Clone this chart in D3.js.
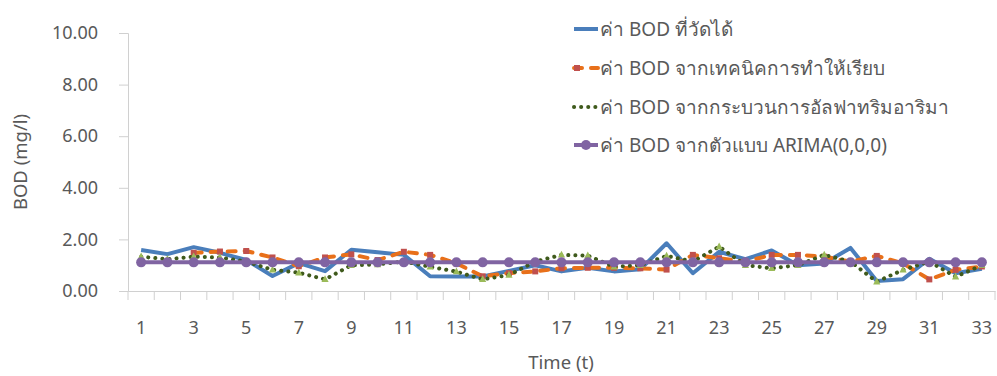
<!DOCTYPE html>
<html><head><meta charset="utf-8">
<script src="https://cdn.jsdelivr.net/npm/d3@7/dist/d3.min.js"></script>
<style>body{margin:0;background:#fff;}svg{display:block;font-family:"Noto Sans","DejaVu Sans",sans-serif;}</style>
</head><body>
<svg id="c" width="997" height="376"></svg>
<script>
const categories = d3.range(1, 34);
const tickLabels = categories.filter(d => d % 2 === 1);
const yTicks = [0, 2, 4, 6, 8, 10];
const measured = [1.59,1.43,1.70,1.48,1.20,0.58,1.08,0.77,1.60,1.50,1.40,0.57,0.56,0.56,0.78,1.00,0.76,0.90,0.76,0.84,1.85,0.69,1.52,1.23,1.57,1.00,1.07,1.67,0.39,0.46,1.25,0.69,0.86];
const smoothing = [null,null,1.48,1.53,1.55,1.30,0.96,1.30,1.42,1.20,1.52,1.40,1.07,0.57,0.69,0.76,0.88,0.90,0.90,0.88,0.83,1.40,1.27,1.14,1.40,1.40,1.33,1.14,1.36,1.07,0.45,0.82,0.95];
const trimmed = [1.33,1.23,1.33,1.30,1.14,0.82,0.71,0.45,1.00,1.03,1.14,0.94,0.75,0.45,0.62,1.14,1.40,1.37,0.94,1.00,1.36,1.14,1.72,1.00,0.88,1.00,1.40,1.14,0.36,0.82,1.14,0.55,1.00];
const arima = categories.map(() => 1.11);
const seriesNames = ["ค่า BOD ที่วัดได้","ค่า BOD จากเทคนิคการทำให้เรียบ","ค่า BOD จากกระบวนการอัลฟาทริมอาริมา","ค่า BOD จากตัวแบบ ARIMA(0,0,0)"];

const svg = d3.select("#c");
const x = d3.scaleBand().domain(categories).range([128, 995]).padding(0);
const y = d3.scaleLinear().domain([0, 10]).range([291, 33]);
const cx = d => x(d) + x.bandwidth() / 2;
const axisCol = "#d0d0d0", textCol = "#595959";

// y axis
const ya = svg.append("g").attr("transform", "translate(128,0)")
  .call(d3.axisLeft(y).tickValues(yTicks).tickFormat(d3.format(".2f")).tickSize(9).tickPadding(21));
ya.select(".domain").attr("stroke", axisCol);
ya.selectAll("line").attr("stroke", axisCol);
ya.selectAll("text").attr("fill", textCol).attr("font-size", 18).attr("font-family", "Noto Sans, sans-serif");

// x axis
const xa = svg.append("g").attr("transform", "translate(0,291)")
  .call(d3.axisBottom(x).tickValues(tickLabels).tickSize(0).tickPadding(30));
xa.select(".domain").attr("stroke", axisCol);
xa.selectAll("text").attr("fill", textCol).attr("font-size", 18).attr("font-family", "Noto Sans, sans-serif");
const xb = categories.map(c => x(c)).concat([x(33) + x.bandwidth()]);
svg.append("g").selectAll("line").data(xb).join("line")
  .attr("x1", d => d).attr("x2", d => d).attr("y1", 291).attr("y2", 300)
  .attr("stroke", axisCol);

// titles
svg.append("text").attr("transform", "translate(27,162) rotate(-90)").attr("text-anchor", "middle")
  .attr("fill", textCol).attr("font-size", 18.5).text("BOD (mg/l)");
svg.append("text").attr("x", 561).attr("y", 369).attr("text-anchor", "middle")
  .attr("fill", textCol).attr("font-size", 18.5).text("Time (t)");

const line = d3.line().defined(d => d.v != null).x(d => cx(d.c)).y(d => y(d.v));
const mk = arr => categories.map((c, i) => ({c, v: arr[i]}));

const styles = [
  {data: measured, stroke: "#4a7ebb", dash: null, cap: "butt", marker: "circle", mfill: "#4a7ebb", msize: 0},
  {data: smoothing, stroke: "#e8701a", dash: "8 9", cap: "round", marker: "square", mfill: "#c0504d", msize: 5},
  {data: trimmed, stroke: "#3f5a1c", dash: "0.1 7", cap: "round", marker: "triangle", mfill: "#9bbb59", msize: 6},
  {data: arima, stroke: "#8064a2", dash: null, cap: "butt", marker: "circle", mfill: "#8064a2", msize: 5}
];

styles.forEach(s => {
  const pts = mk(s.data);
  svg.append("path").datum(pts).attr("d", line).attr("fill", "none")
    .attr("stroke", s.stroke).attr("stroke-width", 4).attr("stroke-linejoin", "round")
    .attr("stroke-linecap", s.cap).attr("stroke-dasharray", s.dash);
  if (s.msize > 0) {
    const g = svg.append("g");
    pts.filter(d => d.v != null).forEach(d => {
      const px = cx(d.c), py = y(d.v), r = s.msize;
      if (s.marker === "circle") g.append("circle").attr("cx", px).attr("cy", py).attr("r", r).attr("fill", s.mfill);
      else if (s.marker === "square") g.append("rect").attr("x", px - r/2 - 0.5).attr("y", py - r/2 - 0.5).attr("width", r + 1).attr("height", r + 1).attr("fill", s.mfill);
      else g.append("path").attr("d", `M${px},${py - r * 0.7}L${px + r * 0.6},${py + r * 0.45}L${px - r * 0.6},${py + r * 0.45}Z`).attr("fill", s.mfill);
    });
  }
});

// legend
const legY = [29, 68, 107, 145];
styles.forEach((s, i) => {
  const g = svg.append("g");
  g.append("line").attr("x1", 574).attr("x2", 598).attr("y1", legY[i]).attr("y2", legY[i])
    .attr("stroke", s.stroke).attr("stroke-width", 4).attr("stroke-linecap", s.cap)
    .attr("stroke-dasharray", s.dash);
  if (s.msize > 0) {
    const px = 586, py = legY[i], r = s.msize;
    if (s.marker === "circle") g.append("circle").attr("cx", px).attr("cy", py).attr("r", r).attr("fill", s.mfill);
    else if (s.marker === "square") g.append("rect").attr("x", 574).attr("y", py - 3).attr("width", 6).attr("height", 6).attr("fill", s.mfill);
  }
  g.append("text").attr("x", 600).attr("y", legY[i] + 7).attr("fill", textCol).attr("font-size", 19).text(seriesNames[i]);
});
</script>
</body></html>
